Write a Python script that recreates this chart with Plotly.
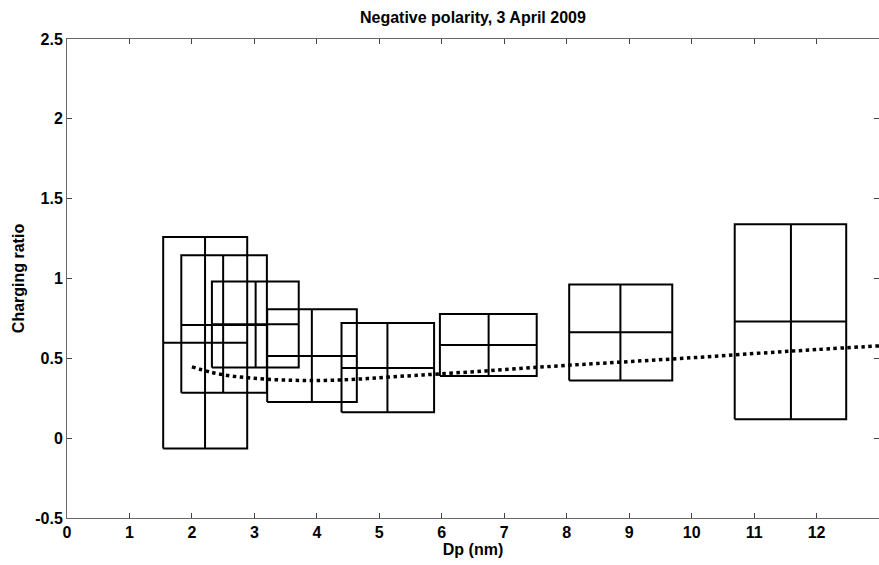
import plotly.graph_objects as go

# Box data: Dp center, Dp low, Dp high, ratio center, ratio low, ratio high
dp_center = [2.21, 2.50, 3.02, 3.92, 5.13, 6.75, 8.86, 11.59]
dp_low = [1.54, 1.83, 2.32, 3.205, 4.395, 5.97, 8.04, 10.69]
dp_high = [2.885, 3.20, 3.71, 4.64, 5.877, 7.52, 9.69, 12.475]
ratio_center = [0.597, 0.708, 0.714, 0.515, 0.44, 0.584, 0.664, 0.731]
ratio_low = [-0.065, 0.284, 0.443, 0.227, 0.163, 0.39, 0.361, 0.119]
ratio_high = [1.26, 1.146, 0.981, 0.808, 0.722, 0.778, 0.962, 1.34]

# Theoretical curve
curve_dp = [2.0, 2.3, 2.6, 2.9, 3.2, 3.6, 4.0, 4.4, 4.8, 5.2, 5.7, 6.7, 7.8, 8.85, 9.9, 11.0, 12.0, 13.0]
curve_ratio = [0.447, 0.413, 0.391, 0.378, 0.369, 0.363, 0.361, 0.365, 0.373, 0.384, 0.396,
               0.421, 0.451, 0.476, 0.501, 0.53, 0.555, 0.578]

x_ticks = list(range(0, 13))
y_ticks = [-0.5, 0, 0.5, 1, 1.5, 2, 2.5]
y_tick_labels = ["-0.5", "0", "0.5", "1", "1.5", "2", "2.5"]

fig = go.Figure()

for xc, x1, x2, yc, y1, y2 in zip(dp_center, dp_low, dp_high, ratio_center, ratio_low, ratio_high):
    xs = [x1, x2, x2, x1, x1, None, xc, xc, None, x1, x2]
    ys = [y1, y1, y2, y2, y1, None, y1, y2, None, yc, yc]
    fig.add_trace(go.Scatter(x=xs, y=ys, mode="lines",
                             line=dict(color="black", width=2),
                             showlegend=False, hoverinfo="skip"))

fig.add_trace(go.Scatter(x=curve_dp, y=curve_ratio, mode="lines",
                         line=dict(color="black", width=3.5, dash="dot", shape="spline"),
                         showlegend=False))

font = dict(family="Liberation Sans, Arial, sans-serif", size=16, color="black")

fig.update_layout(
    width=879, height=565,
    margin=dict(l=67, r=0, t=39, b=47),
    paper_bgcolor="white", plot_bgcolor="white",
    font=font,
    title=dict(text="<b>Negative polarity, 3 April 2009</b>", x=0.538, xanchor="center",
               y=0.97, yanchor="middle", font=dict(size=16)),
    xaxis=dict(range=[0, 13], tickvals=x_ticks, ticktext=[f"<b>{t}</b>" for t in x_ticks],
               ticks="inside", ticklen=5, tickcolor="#444", showline=True, linecolor="#666",
               linewidth=1, mirror="ticks", showgrid=False, zeroline=False,
               tickfont=dict(size=16),
               title=dict(text="<b>Dp (nm)</b>", standoff=1, font=dict(size=16))),
    yaxis=dict(range=[-0.5, 2.5], tickvals=y_ticks, ticktext=[f"<b>{t}</b>" for t in y_tick_labels],
               ticks="inside", ticklen=5, tickcolor="#444", showline=True, linecolor="#666",
               linewidth=1, mirror="ticks", showgrid=False, zeroline=False,
               tickfont=dict(size=16),
               title=dict(text="<b>Charging ratio</b>", standoff=6, font=dict(size=16))),
)

fig.write_html("out.html")
